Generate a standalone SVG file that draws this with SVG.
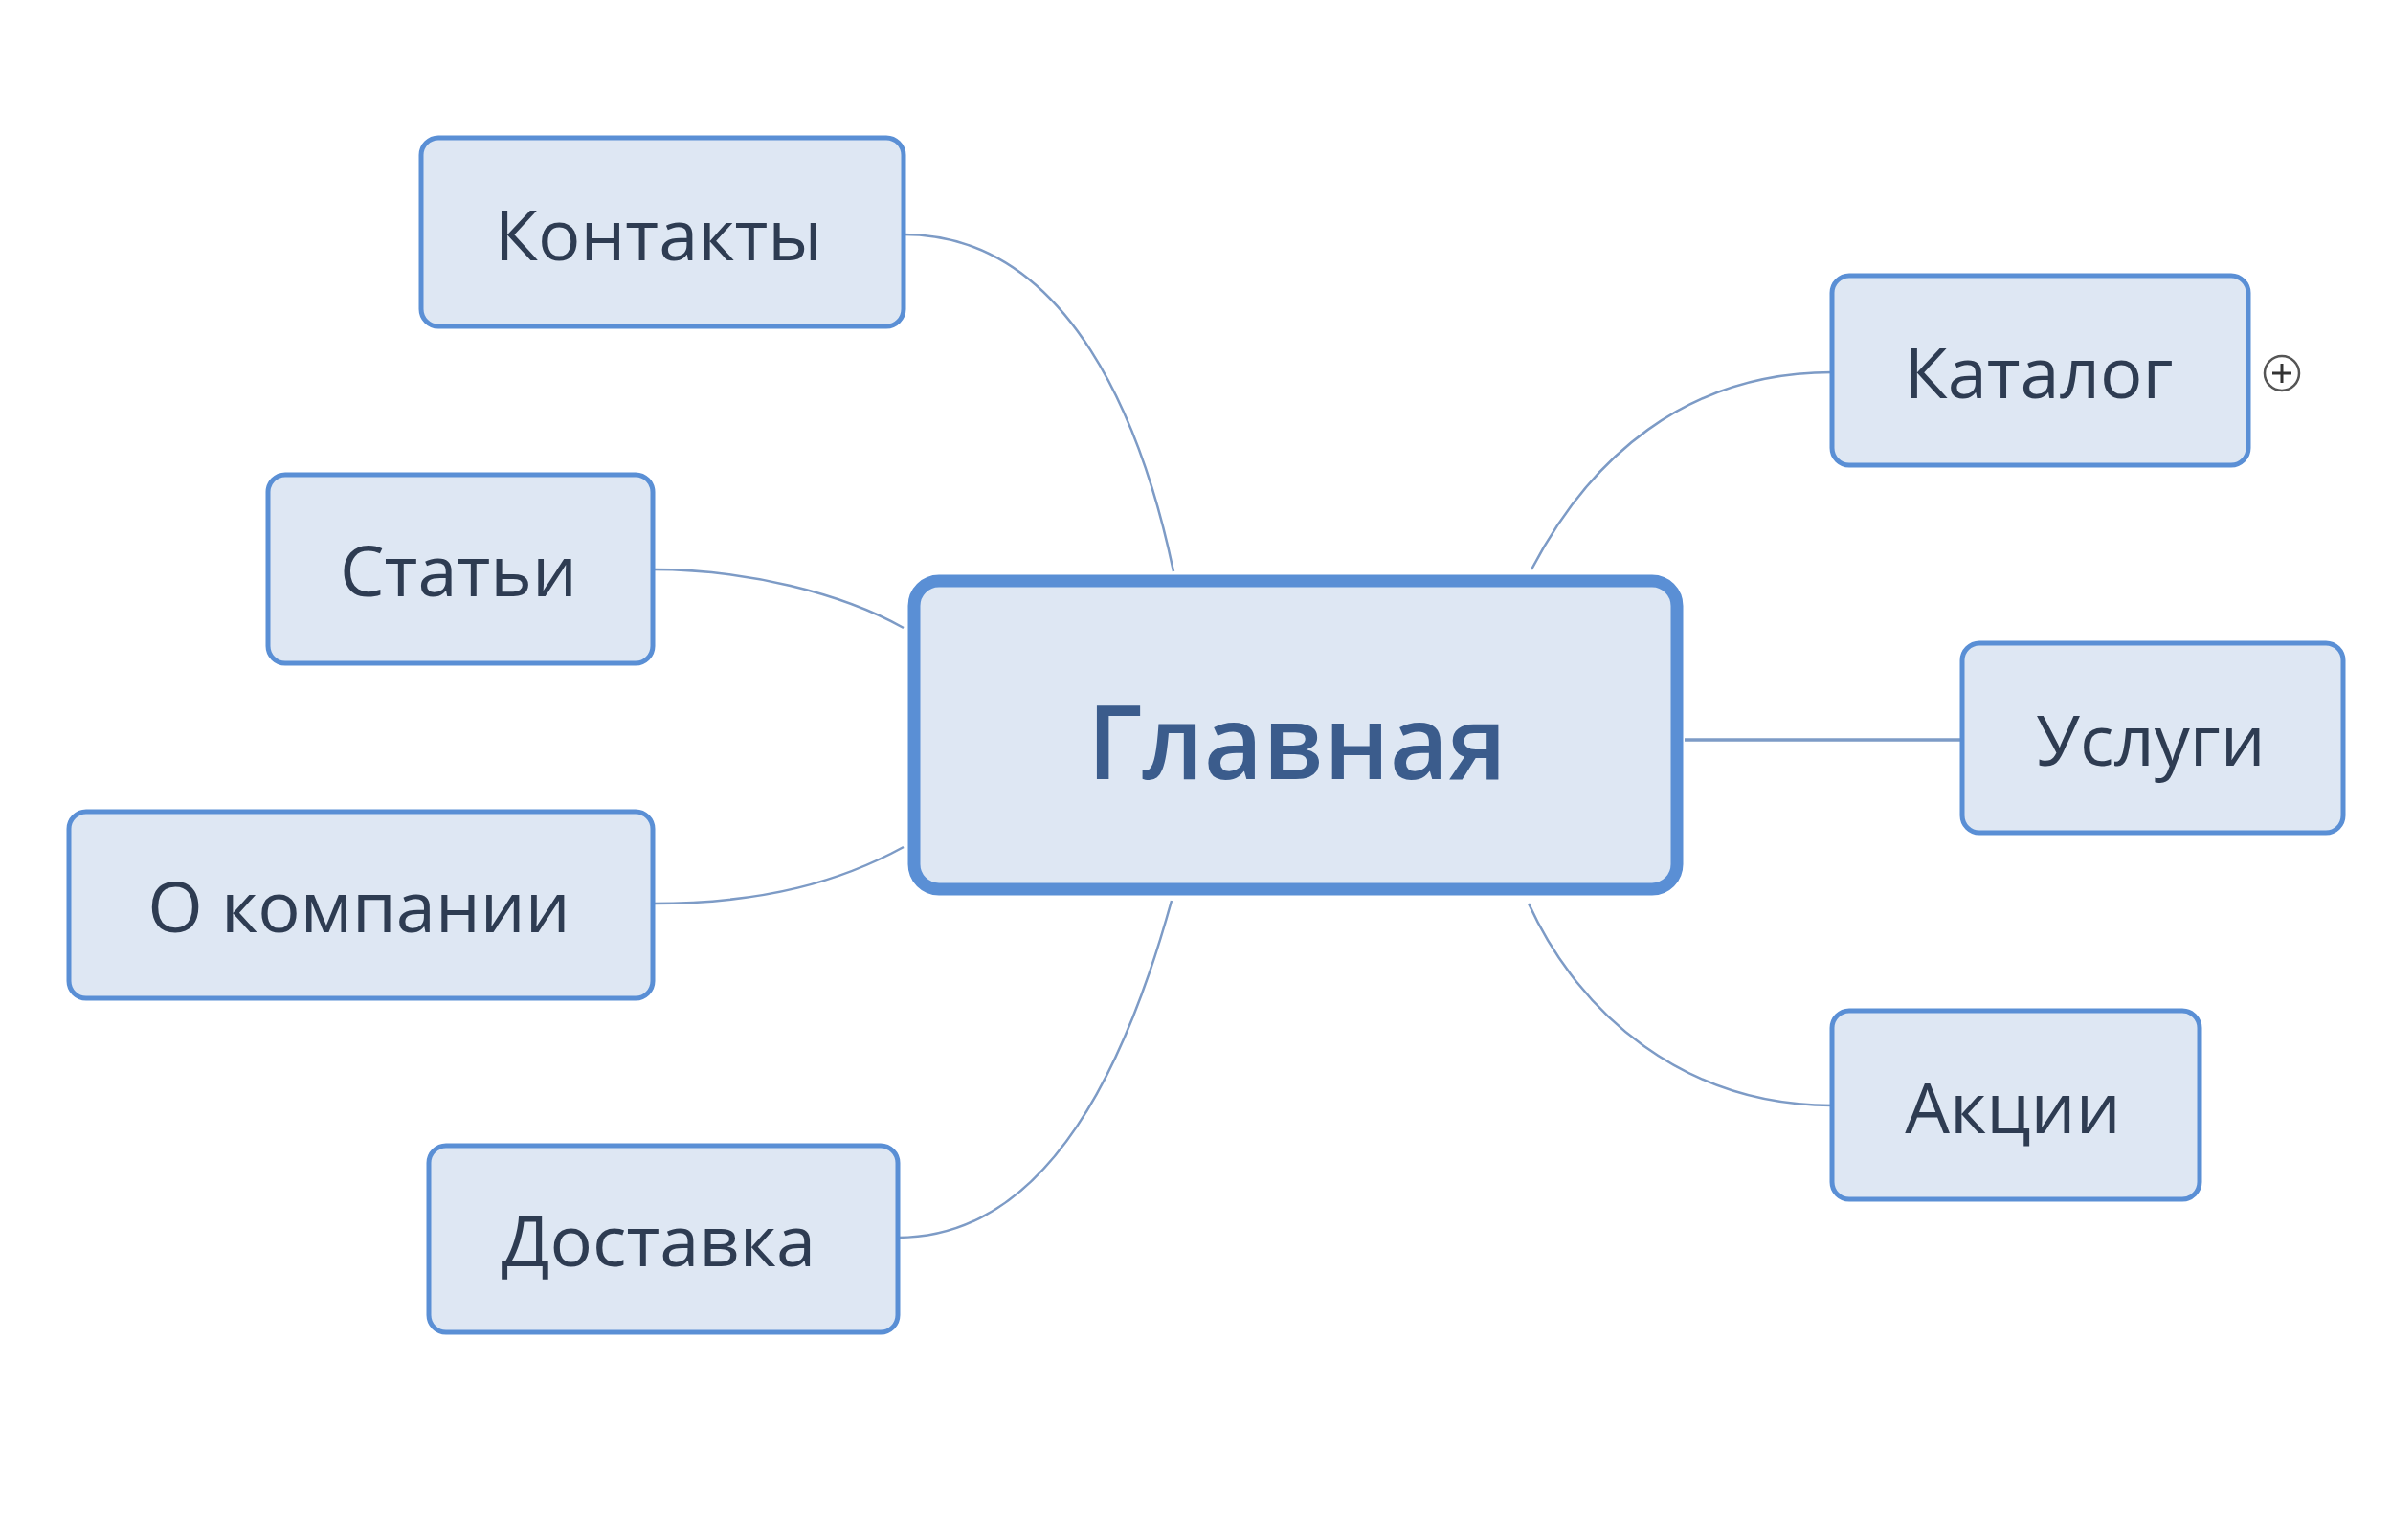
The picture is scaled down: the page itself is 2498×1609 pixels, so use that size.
<svg xmlns="http://www.w3.org/2000/svg" width="2498" height="1609" viewBox="0 0 2498 1609">
<style>
.n{fill:#dee7f3;stroke:#5a8fd5;stroke-width:5}
.t{font-family:"Open Sans","Noto Sans",sans-serif;font-size:74px;fill:#2e3c52;text-anchor:middle;dominant-baseline:central}
.c{fill:none;stroke:#7d9bc6;stroke-width:2.5}
</style>
<rect width="2498" height="1609" fill="#fff"/>
<g id="connectors">
<path class="c" d="M944,245 C1120,245 1195,450 1226,597"/>
<path class="c" d="M682,595 C780,595 880,620 944,656"/>
<path class="c" d="M682,944 C800,944 880,920 944,885"/>
<path class="c" d="M938,1293 C1100,1293 1180,1100 1224,941"/>
<path class="c" d="M1600,595 C1660,480 1760,389 1914,389"/>
<path class="c" d="M1760,773 L2050,773" style="stroke-width:3.5"/>
<path class="c" d="M1597,944 C1650,1060 1760,1155 1914,1155"/>
</g>
<g id="main"><rect x="955" y="607" width="797" height="322" rx="26" class="n" style="stroke-width:13"/><text x="1355" y="773" class="t" style="font-size:106px;font-weight:600;fill:#3b5c8c">Главная</text></g>
<g id="kontakty"><rect x="440" y="144" width="504" height="197" rx="18" class="n"/><text x="688" y="243" class="t">Контакты</text></g>
<g id="stati"><rect x="280" y="496" width="402" height="197" rx="18" class="n"/><text x="479" y="594" class="t">Статьи</text></g>
<g id="okompanii"><rect x="72" y="848" width="610" height="195" rx="18" class="n"/><text x="375" y="945" class="t">О компании</text></g>
<g id="dostavka"><rect x="448" y="1197" width="490" height="195" rx="18" class="n"/><text x="688" y="1294" class="t">Доставка</text></g>
<g id="katalog"><rect x="1914" y="288" width="435" height="198" rx="18" class="n"/><text x="2130" y="387" class="t">Каталог</text>
<circle cx="2384" cy="390" r="18" fill="#fff" stroke="#555" stroke-width="2.5"/><path d="M2384,380 V400 M2374,390 H2394" stroke="#333" stroke-width="3"/></g>
<g id="uslugi"><rect x="2050" y="672" width="398" height="198" rx="18" class="n"/><text x="2247" y="771" class="t">Услуги</text></g>
<g id="akcii"><rect x="1914" y="1056" width="384" height="197" rx="18" class="n"/><text x="2103" y="1155" class="t">Акции</text></g>
</svg>
